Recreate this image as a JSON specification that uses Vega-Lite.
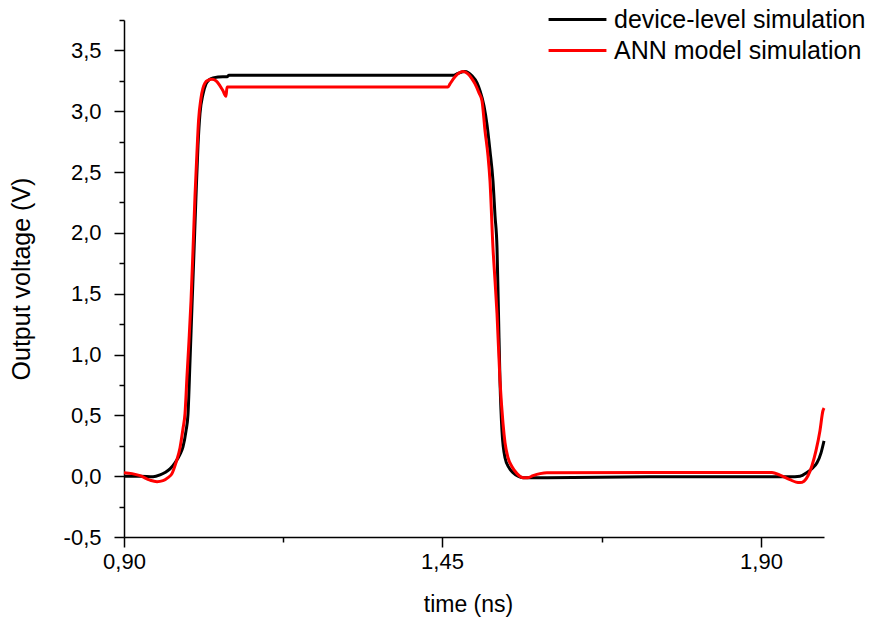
{
  "$schema": "https://vega.github.io/schema/vega-lite/v6.json",
  "width": 700,
  "height": 517,
  "autosize": {"type": "none"},
  "padding": {"left": 124, "top": 20, "right": 53, "bottom": 84},
  "background": "white",
  "config": {
    "view": {"stroke": null},
    "font": "Liberation Sans",
    "axis": {
      "domainColor": "black",
      "domainWidth": 1.5,
      "tickColor": "black",
      "tickWidth": 1.5,
      "labelColor": "black",
      "titleColor": "black",
      "labelFont": "Liberation Sans",
      "titleFont": "Liberation Sans",
      "titleFontWeight": "normal",
      "grid": false
    }
  },
  "data": {
    "values": [
      {"series": "device-level simulation", "t": 0.9000, "v": 0.0},
      {"series": "device-level simulation", "t": 0.9277, "v": 0.0},
      {"series": "device-level simulation", "t": 0.9502, "v": -0.005},
      {"series": "device-level simulation", "t": 0.9623, "v": 0.01},
      {"series": "device-level simulation", "t": 0.9709, "v": 0.03},
      {"series": "device-level simulation", "t": 0.9796, "v": 0.06},
      {"series": "device-level simulation", "t": 0.9882, "v": 0.11},
      {"series": "device-level simulation", "t": 0.9969, "v": 0.18},
      {"series": "device-level simulation", "t": 1.0020, "v": 0.24},
      {"series": "device-level simulation", "t": 1.0072, "v": 0.37},
      {"series": "device-level simulation", "t": 1.0107, "v": 0.51},
      {"series": "device-level simulation", "t": 1.0142, "v": 0.95},
      {"series": "device-level simulation", "t": 1.0176, "v": 1.40},
      {"series": "device-level simulation", "t": 1.0211, "v": 1.85},
      {"series": "device-level simulation", "t": 1.0245, "v": 2.30},
      {"series": "device-level simulation", "t": 1.0280, "v": 2.72},
      {"series": "device-level simulation", "t": 1.0314, "v": 2.98},
      {"series": "device-level simulation", "t": 1.0366, "v": 3.14},
      {"series": "device-level simulation", "t": 1.0418, "v": 3.225},
      {"series": "device-level simulation", "t": 1.0470, "v": 3.258},
      {"series": "device-level simulation", "t": 1.0539, "v": 3.274},
      {"series": "device-level simulation", "t": 1.0712, "v": 3.283},
      {"series": "device-level simulation", "t": 1.0782, "v": 3.283},
      {"series": "device-level simulation", "t": 1.0816, "v": 3.295},
      {"series": "device-level simulation", "t": 1.2044, "v": 3.295},
      {"series": "device-level simulation", "t": 1.3774, "v": 3.295},
      {"series": "device-level simulation", "t": 1.4655, "v": 3.295},
      {"series": "device-level simulation", "t": 1.4726, "v": 3.311},
      {"series": "device-level simulation", "t": 1.4824, "v": 3.326},
      {"series": "device-level simulation", "t": 1.4923, "v": 3.291},
      {"series": "device-level simulation", "t": 1.4994, "v": 3.233},
      {"series": "device-level simulation", "t": 1.5036, "v": 3.168},
      {"series": "device-level simulation", "t": 1.5092, "v": 3.045},
      {"series": "device-level simulation", "t": 1.5135, "v": 2.89},
      {"series": "device-level simulation", "t": 1.5177, "v": 2.674},
      {"series": "device-level simulation", "t": 1.5219, "v": 2.428},
      {"series": "device-level simulation", "t": 1.5248, "v": 2.141},
      {"series": "device-level simulation", "t": 1.5276, "v": 1.878},
      {"series": "device-level simulation", "t": 1.5297, "v": 1.335},
      {"series": "device-level simulation", "t": 1.5318, "v": 0.785},
      {"series": "device-level simulation", "t": 1.5346, "v": 0.374},
      {"series": "device-level simulation", "t": 1.5389, "v": 0.152},
      {"series": "device-level simulation", "t": 1.5445, "v": 0.070},
      {"series": "device-level simulation", "t": 1.5502, "v": 0.029},
      {"series": "device-level simulation", "t": 1.5572, "v": 0.0},
      {"series": "device-level simulation", "t": 1.5643, "v": -0.012},
      {"series": "device-level simulation", "t": 1.5981, "v": -0.012},
      {"series": "device-level simulation", "t": 1.7434, "v": -0.005},
      {"series": "device-level simulation", "t": 1.9409, "v": -0.005},
      {"series": "device-level simulation", "t": 1.9550, "v": 0.0},
      {"series": "device-level simulation", "t": 1.9649, "v": 0.03},
      {"series": "device-level simulation", "t": 1.9733, "v": 0.07},
      {"series": "device-level simulation", "t": 1.9790, "v": 0.11},
      {"series": "device-level simulation", "t": 1.9846, "v": 0.19},
      {"series": "device-level simulation", "t": 1.9889, "v": 0.29},
      {"series": "ANN model simulation", "t": 0.9000, "v": 0.029},
      {"series": "ANN model simulation", "t": 0.9138, "v": 0.021},
      {"series": "ANN model simulation", "t": 0.9277, "v": 0.004},
      {"series": "ANN model simulation", "t": 0.9450, "v": -0.033},
      {"series": "ANN model simulation", "t": 0.9571, "v": -0.045},
      {"series": "ANN model simulation", "t": 0.9675, "v": -0.037},
      {"series": "ANN model simulation", "t": 0.9761, "v": -0.012},
      {"series": "ANN model simulation", "t": 0.9830, "v": 0.021},
      {"series": "ANN model simulation", "t": 0.9899, "v": 0.111},
      {"series": "ANN model simulation", "t": 0.9969, "v": 0.234},
      {"series": "ANN model simulation", "t": 1.0020, "v": 0.39},
      {"series": "ANN model simulation", "t": 1.0055, "v": 0.514},
      {"series": "ANN model simulation", "t": 1.0090, "v": 0.826},
      {"series": "ANN model simulation", "t": 1.0124, "v": 1.113},
      {"series": "ANN model simulation", "t": 1.0159, "v": 1.442},
      {"series": "ANN model simulation", "t": 1.0193, "v": 1.853},
      {"series": "ANN model simulation", "t": 1.0228, "v": 2.305},
      {"series": "ANN model simulation", "t": 1.0263, "v": 2.674},
      {"series": "ANN model simulation", "t": 1.0289, "v": 2.921},
      {"series": "ANN model simulation", "t": 1.0332, "v": 3.110},
      {"series": "ANN model simulation", "t": 1.0401, "v": 3.233},
      {"series": "ANN model simulation", "t": 1.0453, "v": 3.254},
      {"series": "ANN model simulation", "t": 1.0522, "v": 3.262},
      {"series": "ANN model simulation", "t": 1.0591, "v": 3.25},
      {"series": "ANN model simulation", "t": 1.0660, "v": 3.209},
      {"series": "ANN model simulation", "t": 1.0712, "v": 3.168},
      {"series": "ANN model simulation", "t": 1.0764, "v": 3.123},
      {"series": "ANN model simulation", "t": 1.0782, "v": 3.20},
      {"series": "ANN model simulation", "t": 1.2044, "v": 3.20},
      {"series": "ANN model simulation", "t": 1.3774, "v": 3.20},
      {"series": "ANN model simulation", "t": 1.4585, "v": 3.20},
      {"series": "ANN model simulation", "t": 1.4613, "v": 3.225},
      {"series": "ANN model simulation", "t": 1.4683, "v": 3.283},
      {"series": "ANN model simulation", "t": 1.4740, "v": 3.315},
      {"series": "ANN model simulation", "t": 1.4796, "v": 3.326},
      {"series": "ANN model simulation", "t": 1.4867, "v": 3.307},
      {"series": "ANN model simulation", "t": 1.4923, "v": 3.266},
      {"series": "ANN model simulation", "t": 1.4966, "v": 3.225},
      {"series": "ANN model simulation", "t": 1.5022, "v": 3.151},
      {"series": "ANN model simulation", "t": 1.5064, "v": 3.086},
      {"series": "ANN model simulation", "t": 1.5107, "v": 2.839},
      {"series": "ANN model simulation", "t": 1.5149, "v": 2.633},
      {"series": "ANN model simulation", "t": 1.5177, "v": 2.428},
      {"series": "ANN model simulation", "t": 1.5219, "v": 1.878},
      {"series": "ANN model simulation", "t": 1.5248, "v": 1.607},
      {"series": "ANN model simulation", "t": 1.5276, "v": 1.335},
      {"series": "ANN model simulation", "t": 1.5318, "v": 0.785},
      {"series": "ANN model simulation", "t": 1.5361, "v": 0.431},
      {"series": "ANN model simulation", "t": 1.5389, "v": 0.275},
      {"series": "ANN model simulation", "t": 1.5431, "v": 0.152},
      {"series": "ANN model simulation", "t": 1.5488, "v": 0.078},
      {"series": "ANN model simulation", "t": 1.5558, "v": 0.021},
      {"series": "ANN model simulation", "t": 1.5643, "v": -0.012},
      {"series": "ANN model simulation", "t": 1.5713, "v": -0.012},
      {"series": "ANN model simulation", "t": 1.5784, "v": 0.004},
      {"series": "ANN model simulation", "t": 1.5883, "v": 0.021},
      {"series": "ANN model simulation", "t": 1.5981, "v": 0.029},
      {"series": "ANN model simulation", "t": 1.7434, "v": 0.031},
      {"series": "ANN model simulation", "t": 1.9155, "v": 0.031},
      {"series": "ANN model simulation", "t": 1.9268, "v": 0.008},
      {"series": "ANN model simulation", "t": 1.9409, "v": -0.029},
      {"series": "ANN model simulation", "t": 1.9494, "v": -0.049},
      {"series": "ANN model simulation", "t": 1.9550, "v": -0.053},
      {"series": "ANN model simulation", "t": 1.9607, "v": -0.041},
      {"series": "ANN model simulation", "t": 1.9663, "v": 0.004},
      {"series": "ANN model simulation", "t": 1.9719, "v": 0.086},
      {"series": "ANN model simulation", "t": 1.9776, "v": 0.21},
      {"series": "ANN model simulation", "t": 1.9832, "v": 0.374},
      {"series": "ANN model simulation", "t": 1.9874, "v": 0.538},
      {"series": "ANN model simulation", "t": 1.9889, "v": 0.56}
    ]
  },
  "mark": {"type": "line", "strokeWidth": 3, "interpolate": "monotone", "clip": false},
  "encoding": {
    "x": {
      "field": "t",
      "type": "quantitative",
      "title": "time (ns)",
      "scale": {"domain": [0.9, 1.45, 1.9, 1.9889], "range": [0, 318, 637, 700], "zero": false, "nice": false},
      "axis": {
        "values": [0.9, 1.175, 1.45, 1.675, 1.9],
        "labelExpr": "(abs(datum.value - 1.175) < 0.001 || abs(datum.value - 1.675) < 0.001) ? '' : replace(format(datum.value, '.2f'), '.', ',')",
        "tickSize": {"condition": {"test": "abs(datum.value - 1.175) < 0.001 || abs(datum.value - 1.675) < 0.001", "value": 5}, "value": 10},
        "labelFontSize": 22,
        "labelPadding": 4,
        "titleFontSize": 23,
        "titlePadding": 21,
        "titleX": 344,
        "labelFlush": false,
        "labelOverlap": false
      }
    },
    "y": {
      "field": "v",
      "type": "quantitative",
      "title": "Output voltage (V)",
      "scale": {"domain": [-0.5, 3.75], "zero": false, "nice": false},
      "axis": {
        "values": [-0.5, -0.25, 0, 0.25, 0.5, 0.75, 1, 1.25, 1.5, 1.75, 2, 2.25, 2.5, 2.75, 3, 3.25, 3.5, 3.75],
        "labelExpr": "abs(datum.value * 2 - round(datum.value * 2)) > 0.01 ? '' : replace(replace(format(datum.value, '.1f'), '.', ','), '\u2212', '-')",
        "tickSize": {"condition": {"test": "abs(datum.value * 2 - round(datum.value * 2)) > 0.01", "value": 5}, "value": 10},
        "labelFontSize": 22,
        "labelPadding": 13,
        "titleFontSize": 25,
        "titlePadding": 29,
        "labelFlush": false,
        "labelOverlap": false
      }
    },
    "color": {
      "field": "series",
      "type": "nominal",
      "sort": ["device-level simulation", "ANN model simulation"],
      "scale": {"domain": ["device-level simulation", "ANN model simulation"], "range": ["#000000", "#ff0000"]},
      "legend": {
        "orient": "none",
        "legendX": 441,
        "legendY": -13,
        "title": null,
        "symbolType": "M-3,0H3",
        "symbolSize": 372,
        "symbolStrokeWidth": 3,
        "labelFontSize": 25,
        "labelFont": "Liberation Sans",
        "labelColor": "black",
        "labelOffset": 24,
        "padding": 0,
        "rowPadding": 5,
        "labelLimit": 400
      }
    }
  }
}
